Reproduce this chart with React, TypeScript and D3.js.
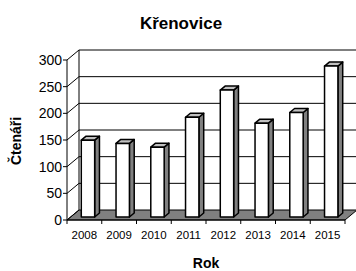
import React from "react";
import * as d3 from "d3";

const categories = ["2008", "2009", "2010", "2011", "2012", "2013", "2014", "2015"];
const values = [144, 138, 131, 187, 238, 176, 196, 283];
const yTicks = [0, 50, 100, 150, 200, 250, 300];
const title = "Křenovice";
const xTitle = "Rok";
const yTitle = "Čtenáři";

const W = 356;
const H = 271;
const FONT = "'Liberation Sans', Arial, Helvetica, sans-serif";

export default function App() {
  const x = d3.scaleBand<string>().domain(categories).range([67, 345]).padding(0);
  const y = d3.scaleLinear().domain([0, 300]).range([220, 60]);
  const DX = 12;
  const DY = -10;
  const z0 = 0.3;
  const z1 = 0.7;
  const bw = x.bandwidth() * 0.385;

  const x0 = 67;
  const x1 = 345;
  const yb = y(0);
  const yt = y(300);

  const pts = (arr: [number, number][]) => arr.map((p) => p.join(",")).join(" ");

  return (
    <svg
      width={W}
      height={H}
      style={{ position: "absolute", left: 0, top: 0, background: "#fff" }}
      fontFamily={FONT}
    >
      {/* back wall */}
      <rect x={x0 + DX} y={yt + DY} width={x1 - x0} height={yb - yt} fill="#fff" />
      {/* floor */}
      <polygon
        points={pts([
          [x0, yb],
          [x1, yb],
          [x1 + DX, yb + DY],
          [x0 + DX, yb + DY],
        ])}
        fill="#808080"
        stroke="#000"
        strokeWidth={1}
      />
      {/* gridlines on back wall and left wall */}
      {yTicks.map((t) => (
        <g key={t}>
          {t > 0 && (
            <line
              x1={x0 + DX}
              x2={x1 + DX}
              y1={y(t) + DY}
              y2={y(t) + DY}
              stroke="#000"
              strokeWidth={1}
            />
          )}
          <line x1={x0} y1={y(t)} x2={x0 + DX} y2={y(t) + DY} stroke="#000" strokeWidth={1} />
          <line x1={x0 - 4} x2={x0} y1={y(t)} y2={y(t)} stroke="#000" strokeWidth={1} />
          <text
            x={62}
            y={y(t)}
            dy="0.36em"
            textAnchor="end"
            fontSize={14}
            fill="#000"
          >
            {t}
          </text>
        </g>
      ))}
      {/* back wall left edge */}
      <line x1={x0 + DX} x2={x0 + DX} y1={yt + DY} y2={yb + DY} stroke="#000" strokeWidth={1} />
      {/* front axis */}
      <line x1={x0} x2={x0} y1={yt} y2={yb} stroke="#000" strokeWidth={1} />
      <line x1={x0} x2={x1} y1={yb} y2={yb} stroke="#000" strokeWidth={1} />

      {/* bars */}
      {categories.map((c, i) => {
        const cx = (x(c) as number) + x.bandwidth() / 2;
        const fx = cx - bw / 2 + DX * z0;
        const fy0 = yb + DY * z0;
        const fy1 = y(values[i]) + DY * z0;
        const ddx = DX * (z1 - z0);
        const ddy = DY * (z1 - z0);
        return (
          <g key={c} stroke="#000" strokeWidth={1.5} strokeLinejoin="round">
            <polygon
              points={pts([
                [fx + bw, fy0],
                [fx + bw + ddx, fy0 + ddy],
                [fx + bw + ddx, fy1 + ddy],
                [fx + bw, fy1],
              ])}
              fill="#808080"
            />
            <polygon
              points={pts([
                [fx, fy1],
                [fx + bw, fy1],
                [fx + bw + ddx, fy1 + ddy],
                [fx + ddx, fy1 + ddy],
              ])}
              fill="#c0c0c0"
            />
            <rect x={fx} y={fy1} width={bw} height={fy0 - fy1} fill="#fff" />
          </g>
        );
      })}

      {/* x ticks & labels */}
      {categories.map((c) => (
        <line
          key={"t" + c}
          x1={x(c) as number}
          x2={x(c) as number}
          y1={yb}
          y2={yb + 4}
          stroke="#000"
        />
      ))}
      <line x1={x1} x2={x1} y1={yb} y2={yb + 4} stroke="#000" />
      {categories.map((c) => (
        <text
          key={"l" + c}
          x={(x(c) as number) + x.bandwidth() / 2}
          y={239}
          textAnchor="middle"
          fontSize={11.5}
          fill="#000"
        >
          {c}
        </text>
      ))}

      <text x={181} y={29} textAnchor="middle" fontSize={17} fontWeight="bold" fill="#000">
        {title}
      </text>
      <text x={206} y={268} textAnchor="middle" fontSize={14} fontWeight="bold" fill="#000">
        {xTitle}
      </text>
      <text
        transform={`translate(21,141) rotate(-90)`}
        textAnchor="middle"
        fontSize={14}
        fontWeight="bold"
        fill="#000"
      >
        {yTitle}
      </text>
    </svg>
  );
}
